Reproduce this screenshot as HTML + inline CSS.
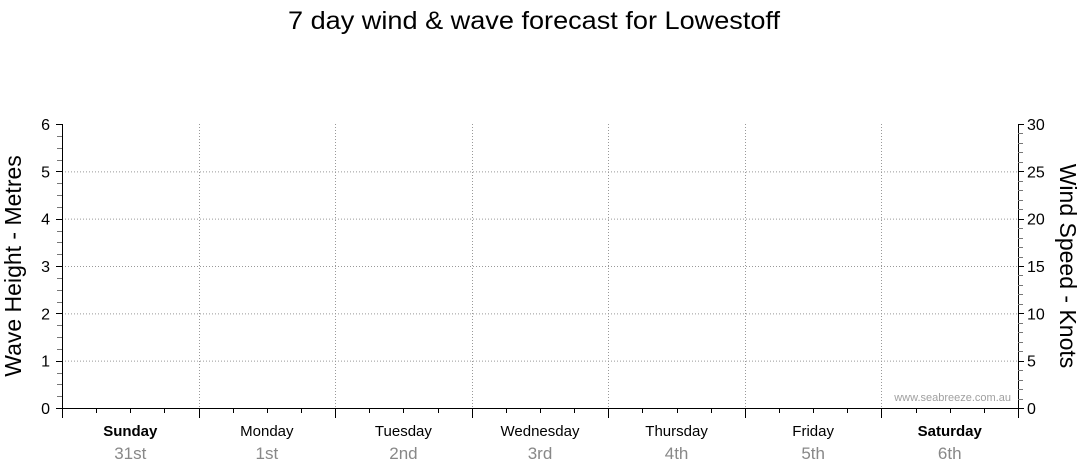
<!DOCTYPE html>
<html><head><meta charset="utf-8"><style>
html,body{margin:0;padding:0;background:#fff;}
svg{display:block;font-family:"Liberation Sans",sans-serif;}
</style></head><body>
<svg id="chart" width="1080" height="475" viewBox="0 0 1080 475">
<text x="534" y="29" font-size="25" text-anchor="middle" textLength="492" lengthAdjust="spacingAndGlyphs">7 day wind &amp; wave forecast for Lowestoff</text>
<text transform="translate(21,266) rotate(-90)" font-size="23" text-anchor="middle">Wave Height - Metres</text>
<text transform="translate(1060,266) rotate(90)" font-size="23" text-anchor="middle">Wind Speed - Knots</text>
<text x="1011" y="401" font-size="11" fill="#a0a0a0" text-anchor="end">www.seabreeze.com.au</text>
<g id="grid"></g><g id="axes"></g><g id="labels"></g>
</svg>
<script>
const days = ["Sunday","Monday","Tuesday","Wednesday","Thursday","Friday","Saturday"];
const dates = ["31st","1st","2nd","3rd","4th","5th","6th"];
const boldDays = [true,false,false,false,false,false,true];
const waveTicks = [0,1,2,3,4,5,6];
const windTicks = [0,5,10,15,20,25,30];
const waveMax = 6, windMax = 30;
const X0=62, X1=1018, Y0=408, Y1=124;
const NS="http://www.w3.org/2000/svg";
const xDay = d => X0 + (X1-X0)*d/days.length;
const yWave = v => Y0 - (Y0-Y1)*v/waveMax;
const yWind = v => Y0 - (Y0-Y1)*v/windMax;
function mk(tag, attrs, parent){const e=document.createElementNS(NS,tag);for(const k in attrs)e.setAttribute(k,attrs[k]);document.getElementById(parent).appendChild(e);return e;}
// horizontal grid
waveTicks.forEach(v=>{ if(v>0&&v<waveMax){
 const l=mk('line',{x1:X0,x2:X1,y1:yWave(v)+0.5,y2:yWave(v)+0.5,stroke:'#999','stroke-dasharray':'1,2'},'grid');
 
 }});
// vertical day grid
for(let d=1;d<days.length;d++){
 const l=mk('line',{x1:Math.round(xDay(d))+0.5,x2:Math.round(xDay(d))+0.5,y1:Y1,y2:Y0,stroke:'#999','stroke-dasharray':'1,2'},'grid');
 
 }
// axes lines
let a=mk('line',{x1:X0+0.5,x2:X0+0.5,y1:Y1,y2:Y0,stroke:'#000'},'axes');


a=mk('line',{x1:X1+0.5,x2:X1+0.5,y1:Y1,y2:Y0,stroke:'#000'},'axes');


a=mk('line',{x1:X0,x2:X1+1,y1:Y0+0.5,y2:Y0+0.5,stroke:'#000'},'axes');


// left ticks
for(let i=0;i<=waveMax*4;i++){const v=i/4,y=Math.round(yWave(v))+0.5,maj=i%4===0;
 mk('line',{x1:X0-(maj?6:5),x2:X0,y1:y,y2:y,stroke:maj?'#000':'#777'},'axes');}
waveTicks.forEach(v=>{const t=mk('text',{x:X0-12,y:yWave(v)+6,'font-size':16,'text-anchor':'end'},'labels');t.textContent=v;
 
 });
// right ticks
for(let i=0;i<=windMax;i++){const y=Math.round(yWind(i))+0.5,maj=i%5===0;
 mk('line',{x1:X1,x2:X1+(maj?6:5),y1:y,y2:y,stroke:maj?'#000':'#777'},'axes');}
windTicks.forEach(v=>{const t=mk('text',{x:X1+9,y:yWind(v)+6,'font-size':16},'labels');t.textContent=v;
 
 });
// x ticks
for(let i=0;i<=days.length*4;i++){const x=Math.round(X0+(X1-X0)*i/(days.length*4))+0.5,maj=i%4===0;
 mk('line',{x1:x,x2:x,y1:Y0,y2:Y0+(maj?10:5),stroke:'#000'},'axes');}
days.forEach((d,i)=>{const cx=xDay(i+0.5);
 const t=mk('text',{x:cx,y:436,'font-size':15,'text-anchor':'middle','font-weight':boldDays[i]?'bold':'normal'},'labels');t.textContent=d;
 
 
 const s=mk('text',{x:cx,y:459,'font-size':17,'text-anchor':'middle',fill:'#888'},'labels');s.textContent=dates[i];
 
 });
</script>
</body></html>
